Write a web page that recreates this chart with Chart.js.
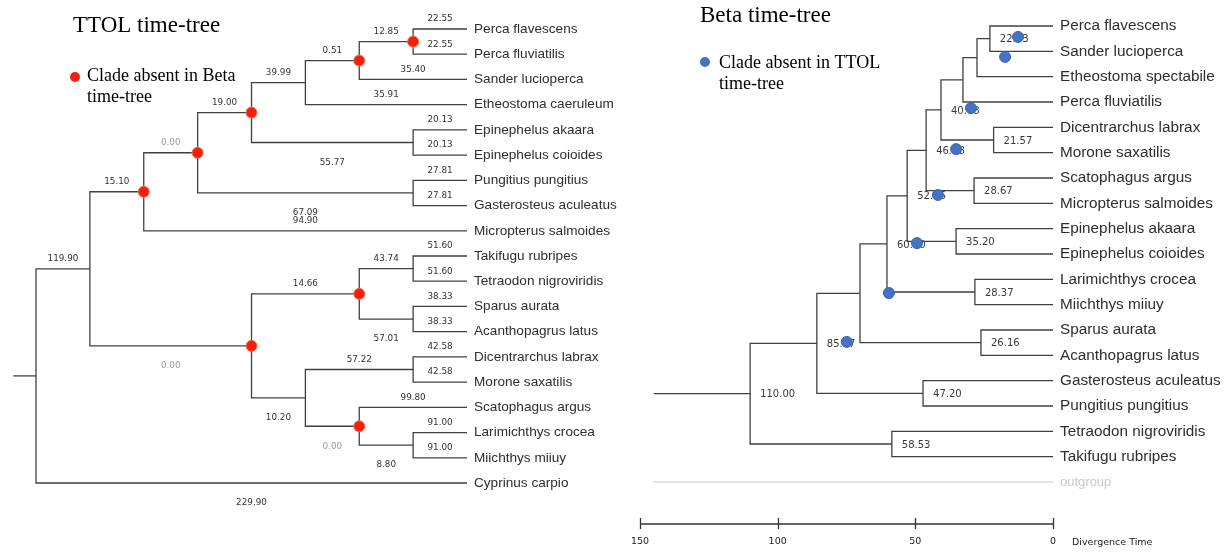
<!DOCTYPE html>
<html>
<head>
<meta charset="utf-8">
<script src="https://cdn.jsdelivr.net/npm/chart.js@4.4.1/dist/chart.umd.min.js"></script>
<style>
  html, body { margin: 0; padding: 0; background: #fff; }
  #wrap { position: relative; width: 1225px; height: 552px; overflow: hidden; }
  #ttol { position: absolute; left: 0; top: 0; }
  #beta { position: absolute; left: 620px; top: 0; }
</style>
</head>
<body>
<div id="wrap">
  <canvas id="ttol" width="620" height="552"></canvas>
  <canvas id="beta" width="605" height="552"></canvas>
</div>
<script>
// ======================================================
// TTOL tree (left) — cladogram, x = depth level
// ======================================================
const ttolTaxa = ['Perca flavescens', 'Perca fluviatilis', 'Sander lucioperca', 'Etheostoma caeruleum',
  'Epinephelus akaara', 'Epinephelus coioides', 'Pungitius pungitius', 'Gasterosteus aculeatus',
  'Micropterus salmoides', 'Takifugu rubripes', 'Tetraodon nigroviridis', 'Sparus aurata',
  'Acanthopagrus latus', 'Dicentrarchus labrax', 'Morone saxatilis', 'Scatophagus argus',
  'Larimichthys crocea', 'Miichthys miiuy', 'Cyprinus carpio'];
const ttolLeafLen = [22.55, 22.55, 35.40, 35.91, 20.13, 20.13, 27.81, 27.81, 94.90, 51.60, 51.60,
  38.33, 38.33, 42.58, 42.58, 99.80, 91.00, 91.00, 229.90];
const ttolLeafDepth = 8;
// internal nodes (children before parents); numbers are taxa, letters are nodes
const ttolNodeIds   = ['A', 'B', 'C', 'D', 'E', 'F', 'G', 'H', 'I', 'J', 'K', 'L', 'M', 'N', 'O', 'P', 'Q', 'R'];
const ttolNodeKids  = [[0, 1], ['A', 2], ['B', 3], [4, 5], ['C', 'D'], [6, 7], ['E', 'F'], ['G', 8],
  [9, 10], [11, 12], ['I', 'J'], [13, 14], [16, 17], [15, 'M'], ['L', 'N'], ['K', 'O'], ['H', 'P'], ['Q', 18]];
const ttolNodeDepth = [7, 6, 5, 7, 4, 7, 3, 2, 7, 7, 6, 7, 7, 6, 5, 4, 1, 0];
const ttolNodeLen   = [12.85, 0.51, 39.99, 55.77, 19.00, 67.09, 0.00, 15.10, 43.74, 57.01, 14.66,
  57.22, 8.80, 0.00, 10.20, 0.00, 119.90, null];
const ttolAbsent    = ['A', 'B', 'E', 'G', 'H', 'K', 'N', 'P'];
const ttolStubDepth = -0.42;

// ======================================================
// Beta tree (right) — x = divergence time
// ======================================================
const betaTaxa = ['Perca flavescens', 'Sander lucioperca', 'Etheostoma spectabile', 'Perca fluviatilis',
  'Dicentrarchus labrax', 'Morone saxatilis', 'Scatophagus argus', 'Micropterus salmoides',
  'Epinephelus akaara', 'Epinephelus coioides', 'Larimichthys crocea', 'Miichthys miiuy',
  'Sparus aurata', 'Acanthopagrus latus', 'Gasterosteus aculeatus', 'Pungitius pungitius',
  'Tetraodon nigroviridis', 'Takifugu rubripes'];
const betaOutgroup = 'outgroup';
const betaNodeIds  = ['a', 'b', 'c', 'd', 'e', 'f', 'g', 'h', 'i', 'j', 'k', 'l', 'm', 'n', 'o', 'p', 'q'];
const betaNodeKids = [[0, 1], ['a', 2], ['b', 3], [4, 5], ['c', 'd'], [6, 7], ['e', 'f'], [8, 9],
  ['g', 'h'], [10, 11], ['i', 'j'], [12, 13], ['k', 'l'], [14, 15], ['m', 'n'], [16, 17], ['o', 'p']];
const betaNodeAge  = [22.93, 27.6, 32.7, 21.57, 40.68, 28.67, 46.08, 35.20, 52.96, 28.37, 60.30,
  26.16, 70.1, 47.20, 85.77, 58.53, 110.00];
const betaAgeShown = [1, 0, 0, 1, 1, 1, 1, 1, 1, 1, 1, 1, 0, 1, 1, 1, 1];
const betaStubAge  = 145;
const betaAbsentAge = [12.7, 17.4, 29.8, 35.2, 41.8, 49.4, 59.6, 74.9];
const betaAbsentRow = [0.43, 1.22, 3.24, 4.86, 6.67, 8.57, 10.54, 12.47];
const betaTicks = [150, 100, 50, 0];

const LINE = '#404040';
const NUM_FONT = '"DejaVu Sans", Tahoma, sans-serif';
const SERIF = '"Liberation Serif", "Times New Roman", serif';
const SANS = '"Liberation Sans", Arial, sans-serif';

function layoutTree(ids, kids, xs, leafX) {
  const nodes = {};
  const rowOf = k => typeof k === 'number' ? k : nodes[k].row;
  const xOf = k => typeof k === 'number' ? leafX : nodes[k].x;
  ids.forEach((id, i) => {
    const [a, b] = kids[i];
    nodes[id] = { id, i, kids: [a, b], x: xs[i], row: (rowOf(a) + rowOf(b)) / 2 };
  });
  return { nodes, rowOf, xOf };
}

function bracketSets(tree, ids) {
  return ids.map(id => {
    const n = tree.nodes[id];
    const [a, b] = n.kids;
    return lineSet([
      { x: tree.xOf(a), y: tree.rowOf(a) }, { x: n.x, y: tree.rowOf(a) },
      { x: n.x, y: tree.rowOf(b) }, { x: tree.xOf(b), y: tree.rowOf(b) }
    ], LINE);
  });
}

function lineSet(data, color) {
  return { type: 'scatter', data, showLine: true, borderColor: color, borderWidth: 1.3,
    pointRadius: 0, fill: false, tension: 0, clip: false, order: 2 };
}

function dotSet(data, fill, edge) {
  return { type: 'scatter', data, pointRadius: 5.5, pointBackgroundColor: fill,
    pointBorderColor: edge, pointBorderWidth: 1, showLine: false, clip: false, order: 0 };
}

function baseOptions(padding, x) {
  return {
    responsive: false, animation: false, events: [],
    layout: { padding },
    plugins: { legend: { display: false }, tooltip: { enabled: false } },
    scales: {
      x: Object.assign({ type: 'linear', display: false }, x),
      y: { type: 'linear', display: false, min: 0, max: 18, reverse: true }
    }
  };
}

function legend(ctx, dx, dy, color, lines, tx, ty) {
  ctx.beginPath(); ctx.arc(dx, dy, 5, 0, Math.PI * 2);
  ctx.fillStyle = color; ctx.fill();
  ctx.fillStyle = '#000'; ctx.font = '18px ' + SERIF;
  ctx.textAlign = 'left'; ctx.textBaseline = 'alphabetic';
  lines.forEach((t, i) => ctx.fillText(t, tx, ty + i * 21));
}

// ---------------- TTOL chart ----------------
const ttol = layoutTree(ttolNodeIds, ttolNodeKids, ttolNodeDepth, ttolLeafDepth);
const ttolRoot = ttol.nodes['R'];
const ttolParent = {};
ttolNodeIds.forEach(id => ttol.nodes[id].kids.forEach((k, j) => { ttolParent[k] = { id, j }; }));

new Chart(document.getElementById('ttol'), {
  type: 'scatter',
  data: {
    datasets: [
      dotSet(ttolAbsent.map(id => ({ x: ttol.nodes[id].x, y: ttol.nodes[id].row })), '#f2200d', '#ff6a3a'),
      ...bracketSets(ttol, ttolNodeIds),
      lineSet([{ x: ttolStubDepth, y: ttolRoot.row }, { x: ttolRoot.x, y: ttolRoot.row }], LINE)
    ]
  },
  options: baseOptions({ left: 36, right: 153, top: 29, bottom: 69 }, { min: 0, max: ttolLeafDepth }),
  plugins: [{
    id: 'ttolText',
    beforeDatasetsDraw(chart) {
      const { ctx, scales: { x, y } } = chart;
      ctx.save();
      ctx.fillStyle = '#000'; ctx.font = '23px ' + SERIF;
      ctx.textAlign = 'left'; ctx.textBaseline = 'alphabetic';
      ctx.fillText('TTOL time-tree', 73, 32);
      legend(ctx, 75, 77, '#f2200d', ['Clade absent in Beta', 'time-tree'], 87, 81);

      // leaf names
      ctx.font = '13.6px ' + SANS; ctx.fillStyle = '#2e2e2e'; ctx.textBaseline = 'middle';
      ttolTaxa.forEach((t, i) => ctx.fillText(t, x.getPixelForValue(ttolLeafDepth) + 7, y.getPixelForValue(i)));

      // branch values
      ctx.font = '8.8px ' + NUM_FONT; ctx.textAlign = 'center';
      const branch = (k, val) => {
        const p = ttolParent[k];
        if (!p || val == null) return;
        const x0 = x.getPixelForValue(ttol.nodes[p.id].x);
        const x1 = x.getPixelForValue(ttol.xOf(k));
        const yy = y.getPixelForValue(ttol.rowOf(k));
        const below = p.j === 1 && (typeof k === 'string' || p.id === 'R');
        ctx.fillStyle = val === 0 ? '#9a9a9a' : '#333';
        ctx.fillText(val.toFixed(2), (x0 + x1) / 2, below ? yy + 20 : yy - 10);
      };
      ttolLeafLen.forEach((v, i) => branch(i, v));
      ttolNodeIds.forEach((id, i) => branch(id, ttolNodeLen[i]));
      ctx.restore();
    }
  }]
});

// ---------------- Beta chart ----------------
const beta = layoutTree(betaNodeIds, betaNodeKids, betaNodeAge, 0);
const betaRoot = beta.nodes['q'];

new Chart(document.getElementById('beta'), {
  type: 'scatter',
  data: {
    datasets: [
      dotSet(betaAbsentAge.map((a, i) => ({ x: a, y: betaAbsentRow[i] })), '#4472c4', '#3b64b0'),
      ...bracketSets(beta, betaNodeIds),
      lineSet([{ x: betaStubAge, y: betaRoot.row }, { x: betaRoot.x, y: betaRoot.row }], LINE),
      lineSet([{ x: betaStubAge, y: betaTaxa.length }, { x: 0, y: betaTaxa.length }], '#d9d9d9')
    ]
  },
  options: baseOptions({ left: 20, right: 172, top: 26, bottom: 70 }, { min: 0, max: 150, reverse: true }),
  plugins: [{
    id: 'betaText',
    beforeDatasetsDraw(chart) {
      const { ctx, chartArea, scales: { x, y } } = chart;
      ctx.save();
      ctx.fillStyle = '#000'; ctx.font = '23px ' + SERIF;
      ctx.textAlign = 'left'; ctx.textBaseline = 'alphabetic';
      ctx.fillText('Beta time-tree', 80, 22);
      legend(ctx, 85, 62, '#4472c4', ['Clade absent in TTOL', 'time-tree'], 99, 68);

      // leaf names
      const lx = x.getPixelForValue(0) + 7;
      ctx.font = '15.3px ' + SANS; ctx.fillStyle = '#2e2e2e'; ctx.textBaseline = 'middle';
      betaTaxa.forEach((t, i) => ctx.fillText(t, lx, y.getPixelForValue(i)));
      ctx.font = '13px ' + SANS; ctx.fillStyle = '#c8c8c8';
      ctx.fillText(betaOutgroup, lx, y.getPixelForValue(betaTaxa.length));

      // node ages
      ctx.font = '10px ' + NUM_FONT; ctx.fillStyle = '#3a3a3a';
      betaNodeIds.forEach((id, i) => {
        if (!betaAgeShown[i]) return;
        const n = beta.nodes[id];
        ctx.fillText(betaNodeAge[i].toFixed(2), x.getPixelForValue(n.x) + 10, y.getPixelForValue(n.row) + 1);
      });

      // time axis
      const ay = chartArea.bottom + 42;
      ctx.strokeStyle = '#333'; ctx.lineWidth = 1.3;
      ctx.beginPath();
      ctx.moveTo(x.getPixelForValue(betaTicks[0]), ay);
      ctx.lineTo(x.getPixelForValue(betaTicks[betaTicks.length - 1]), ay);
      betaTicks.forEach(t => {
        const px = Math.round(x.getPixelForValue(t)) + 0.5;
        ctx.moveTo(px, ay - 6); ctx.lineTo(px, ay + 5);
      });
      ctx.stroke();
      ctx.font = '9.5px ' + NUM_FONT; ctx.fillStyle = '#222'; ctx.textAlign = 'center';
      betaTicks.forEach(t => ctx.fillText(String(t), x.getPixelForValue(t), ay + 18));
      ctx.textAlign = 'left';
      ctx.fillText('Divergence Time', x.getPixelForValue(0) + 19, ay + 19);
      ctx.restore();
    }
  }]
});
</script>
</body>
</html>
